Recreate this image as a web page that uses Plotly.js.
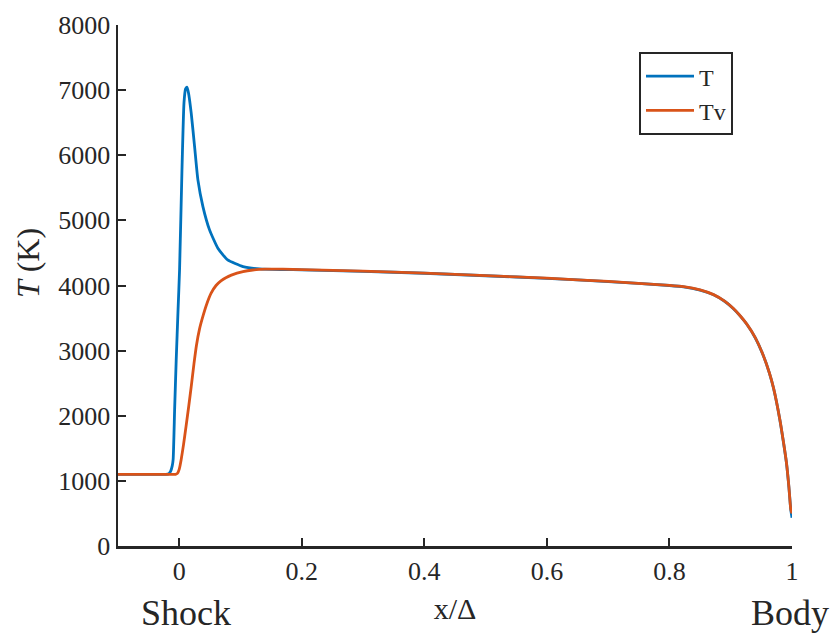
<!DOCTYPE html>
<html>
<head>
<meta charset="utf-8">
<script src="https://cdn.plot.ly/plotly-3.0.1.min.js"></script>
<style>html,body{margin:0;padding:0;background:#fff;}#chart{width:835px;height:633px;}</style>
</head>
<body>
<div id="chart"></div>
<script>
// Translational temperature T
const T_x = [-0.1, -0.05, -0.022, -0.017, -0.014, -0.0115, -0.010, -0.0076, -0.005, -0.002, 0.0005, 0.0044, 0.0077, 0.0103, 0.0125, 0.015, 0.0195, 0.025, 0.0304, 0.0386, 0.0494, 0.063, 0.079, 0.104, 0.131, 0.169, 0.2, 0.3, 0.4, 0.5, 0.6, 0.7, 0.8, 0.823, 0.85, 0.872, 0.89, 0.904, 0.915, 0.926, 0.94, 0.953, 0.963, 0.970, 0.980, 0.986, 0.991, 0.995, 0.998, 1.0];
const T_y = [1100, 1100, 1100, 1110, 1150, 1230, 1330, 2090, 2857, 3625, 4250, 5776, 6805, 7020, 7046, 6960, 6646, 6134, 5622, 5212, 4854, 4573, 4393, 4290, 4255, 4245, 4240, 4218, 4188, 4150, 4110, 4060, 4000, 3980, 3930, 3858, 3758, 3648, 3538, 3408, 3198, 2928, 2658, 2418, 1948, 1598, 1273, 898, 560, 435];
// Vibrational temperature Tv
const Tv_x = [-0.1, -0.05, -0.01, -0.006, -0.003, 0.0, 0.003, 0.007, 0.011, 0.0155, 0.0195, 0.024, 0.028, 0.033, 0.039, 0.045, 0.052, 0.060, 0.068, 0.076, 0.085, 0.104, 0.12, 0.14, 0.169, 0.2, 0.3, 0.4, 0.5, 0.6, 0.7, 0.8, 0.823, 0.85, 0.872, 0.89, 0.904, 0.915, 0.926, 0.94, 0.953, 0.963, 0.970, 0.980, 0.986, 0.991, 0.995, 0.998, 1.0];
const Tv_y = [1100, 1100, 1100, 1100, 1115, 1180, 1320, 1560, 1833, 2150, 2447, 2800, 3080, 3330, 3540, 3720, 3882, 4000, 4070, 4120, 4160, 4214, 4238, 4250, 4250, 4243, 4220, 4190, 4152, 4112, 4062, 4003, 3982, 3932, 3860, 3760, 3650, 3540, 3410, 3200, 2930, 2660, 2420, 1950, 1600, 1275, 900, 565, 500];
const xTicks = [0, 0.2, 0.4, 0.6, 0.8, 1];
const xTickText = ['0', '0.2', '0.4', '0.6', '0.8', '1'];
const yTicks = [0, 1000, 2000, 3000, 4000, 5000, 6000, 7000, 8000];

const FONT = 'Liberation Serif, Times New Roman, serif';
const AX = '#262626';

const traces = [
  {x: T_x, y: T_y, name: 'T', mode: 'lines', line: {color: '#0072BD', width: 2.8, shape: 'spline', smoothing: 0.5}},
  {x: Tv_x, y: Tv_y, name: 'Tv', mode: 'lines', line: {color: '#D95319', width: 2.8, shape: 'spline', smoothing: 0.5}}
];

const layout = {
  width: 835, height: 633,
  margin: {l: 118, r: 43, t: 25, b: 87},
  paper_bgcolor: '#fff', plot_bgcolor: '#fff',
  font: {family: FONT, size: 26, color: AX},
  showlegend: true,
  legend: {x: 0.773, y: 0.948, xanchor: 'left', yanchor: 'top', bgcolor: '#fff',
           bordercolor: AX, borderwidth: 2, font: {family: FONT, size: 24, color: AX},
           itemwidth: 48, tracegroupgap: 0},
  xaxis: {
    range: [-0.1, 1], tickmode: 'array', tickvals: xTicks, ticktext: xTickText,
    ticks: 'inside', ticklen: 8, tickwidth: 2, tickcolor: AX,
    showline: true, linecolor: AX, linewidth: 2.5, showgrid: false, zeroline: false,
    tickfont: {family: FONT, size: 26, color: AX},
    title: {text: 'x/Δ', font: {family: FONT, size: 30, color: AX}, standoff: 14}
  },
  yaxis: {
    range: [0, 8000], tickmode: 'array', tickvals: yTicks,
    ticks: 'inside', ticklen: 8, tickwidth: 2, tickcolor: AX,
    showline: true, linecolor: AX, linewidth: 2.5, showgrid: false, zeroline: false,
    tickfont: {family: FONT, size: 26, color: AX}
  },
  annotations: [
    {text: '<i>T</i> (K)', xref: 'paper', yref: 'paper', x: -0.1335, y: 0.543, xanchor: 'center', yanchor: 'middle',
     textangle: -90, showarrow: false, font: {family: FONT, size: 32, color: AX}},
    {text: 'Shock', xref: 'paper', yref: 'paper', x: 0.101, y: -0.128, xanchor: 'center', yanchor: 'middle',
     showarrow: false, font: {family: FONT, size: 36, color: AX}},
    {text: 'Body', xref: 'paper', yref: 'paper', x: 0.997, y: -0.128, xanchor: 'center', yanchor: 'middle',
     showarrow: false, font: {family: FONT, size: 36, color: AX}}
  ]
};

Plotly.newPlot('chart', traces, layout, {displayModeBar: false, staticPlot: true});
</script>
</body>
</html>
